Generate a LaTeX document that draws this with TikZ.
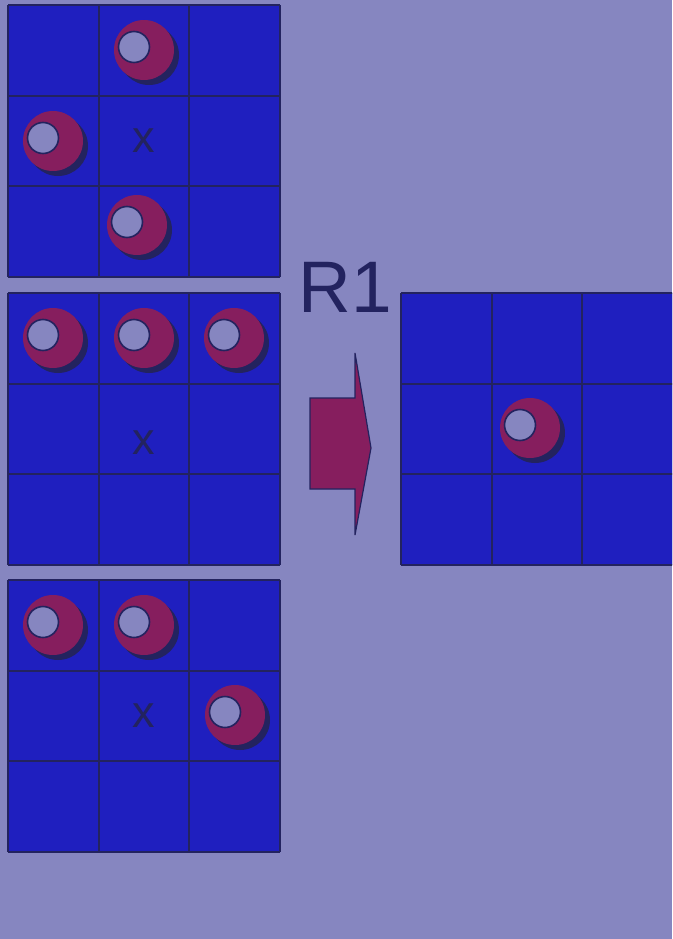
\documentclass[tikz,border=0pt]{standalone}
\usepackage{fontspec}
\setsansfont{Liberation Sans}
\definecolor{bgviolet}{HTML}{8686C0}
\definecolor{cellblue}{HTML}{1F1FBF}
\definecolor{linenavy}{HTML}{23235F}
\definecolor{stonered}{HTML}{861E5E}
\newcommand{\stone}[2]{%
  \fill[linenavy] (#1+5,#2+5) circle (30);
  \fill[stonered] (#1,#2) circle (30);
  \filldraw[fill=bgviolet, draw=linenavy, line width=1.6pt] (#1-10,#2-3) circle (15.5);}
\begin{document}
\begin{tikzpicture}[x=1pt,y=-1pt,every node/.style={font=\sffamily, text=linenavy}]
	\useasboundingbox (0,0) rectangle (672,939);
	\clip (0,0) rectangle (672,939);
	\fill[bgviolet] (0,0) rectangle (672,939);
	% boards
	\foreach \gx/\gy in {8/5, 8/293, 8/580, 401/293} {
		\fill[cellblue] (\gx,\gy) rectangle ++(272,272);
		\foreach \i in {0,91,181,272} {
			\draw[linenavy, line width=1.6pt] ({\gx+\i},\gy) -- ++(0,272);
			\draw[linenavy, line width=1.6pt] (\gx,{\gy+\i}) -- ++(272,0);}
	}
	\node[font=\sffamily\fontsize{45}{45}\selectfont] (xa) at (144,141) {x};
	\node[font=\sffamily\fontsize{45}{45}\selectfont] (xb) at (144,443) {x};
	\node[font=\sffamily\fontsize{45}{45}\selectfont] (xc) at (144,716) {x};
	% stones
	\stone{144}{50} \stone{53}{141} \stone{137}{225}
	\stone{53}{338} \stone{144}{338} \stone{234}{338}
	\stone{53}{625} \stone{144}{625} \stone{235}{715}
	\stone{530}{428}
	% rule
	\node[font=\sffamily\fontsize{73}{73}\selectfont] (rule) at (345,287) {R1};
	\filldraw[fill=stonered, draw=linenavy, line width=1.2pt, line join=miter]
		(310,398) -- (355,398) -- (355,353) -- (371,448) -- (355,535) -- (355,489) -- (310,489) -- cycle;
\end{tikzpicture}
\end{document}
